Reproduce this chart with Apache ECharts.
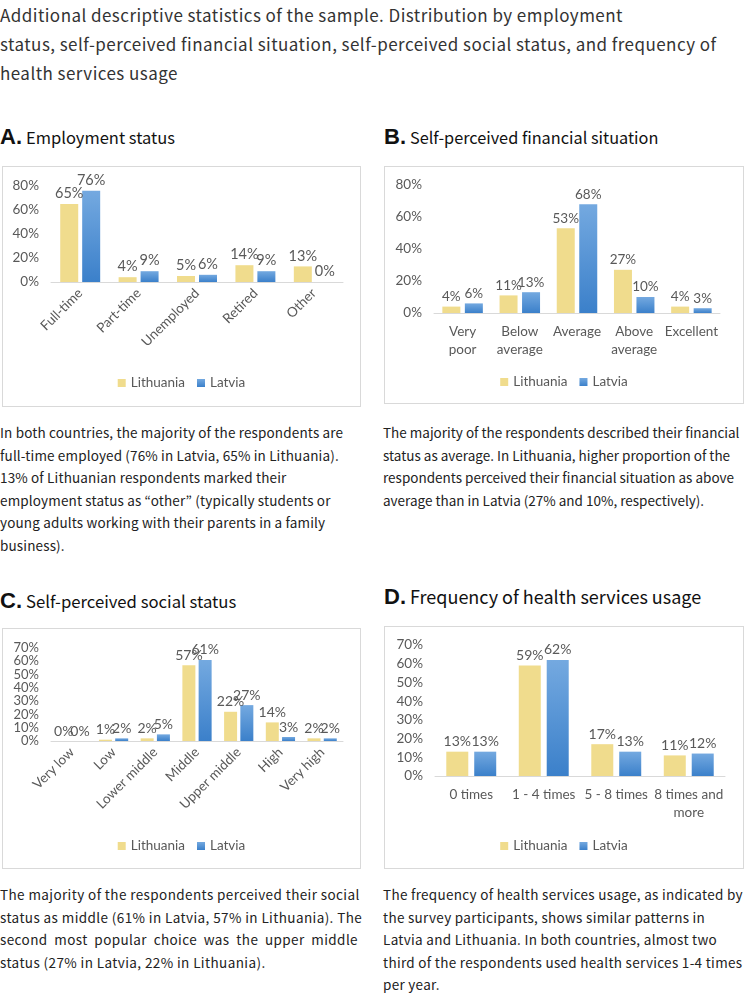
<!DOCTYPE html>
<html>
<head>
<meta charset="utf-8">
<script src="https://cdn.jsdelivr.net/npm/echarts@6/dist/echarts.min.js"></script>
<style>
  html, body { margin: 0; padding: 0; background: #fff; }
  body { width: 745px; height: 993px; position: relative; overflow: hidden; color: #222; }
  .abs { position: absolute; }
  .title { left: 0; top: 0; font-family: "Noto Sans CJK JP", "Noto Sans", sans-serif; font-size: 17px; letter-spacing: 0.45px; line-height: 29px; color: #333; white-space: nowrap; }
  .head { font-family: "Noto Sans CJK JP", "Noto Sans", sans-serif; color: #111; white-space: nowrap; }
  .head b { font-family: "Liberation Sans", Arial, sans-serif; font-size: 22px; font-weight: bold; margin-right: 4px; }
  .para { font-family: "Noto Sans CJK JP", "Noto Sans", sans-serif; font-size: 13.5px; line-height: 22.5px; color: #222; white-space: nowrap; }
  .para .j { text-align: justify; text-align-last: justify; }
  .box { position: absolute; border: 1px solid #d9d9d9; box-sizing: border-box; }
  .box > div { position: absolute; left: 0; top: 0; width: 100%; height: 100%; }
</style>
</head>
<body>
<div class="abs title" id="title">Additional descriptive statistics of the sample. Distribution by employment<br>status, self-perceived financial situation, self-perceived social status, and frequency of<br>health services usage</div>

<div class="abs head" style="left:0;top:124px;font-size:16.5px;"><b>A.</b>Employment status</div>
<div class="abs head" style="left:384px;top:124px;font-size:16.3px;"><b>B.</b>Self-perceived financial situation</div>
<div class="abs head" style="left:0;top:588px;font-size:16.7px;"><b>C.</b>Self-perceived social status</div>
<div class="abs head" style="left:384px;top:583px;font-size:18px;"><b>D.</b>Frequency of health services usage</div>

<div class="box" style="left:2px;top:166px;width:359px;height:241px;"><div id="chartA"></div></div>
<div class="box" style="left:384px;top:166px;width:360px;height:238px;"><div id="chartB"></div></div>
<div class="box" style="left:2px;top:628px;width:359px;height:241px;"><div id="chartC"></div></div>
<div class="box" style="left:384px;top:626px;width:360px;height:243px;"><div id="chartD"></div></div>

<div class="abs para" style="left:0;top:421px;letter-spacing:0.15px;">In both countries, the majority of the respondents are<br>full-time employed (76% in Latvia, 65% in Lithuania).<br>13% of Lithuanian respondents marked their<br>employment status as “other” (typically students or<br>young adults working with their parents in a family<br>business).</div>
<div class="abs para" style="left:383px;top:421px;">The majority of the respondents described their financial<br>status as average. In Lithuania, higher proportion of the<br>respondents perceived their financial situation as above<br>average than in Latvia (27% and 10%, respectively).</div>
<div class="abs para" style="left:0;top:883px;width:358px;letter-spacing:0.4px;">
  <div class="j">The majority of the respondents perceived their social</div>
  <div class="j">status as middle (61% in Latvia, 57% in Lithuania). The</div>
  <div class="j">second most popular choice was the upper middle</div>
  <div>status (27% in Latvia, 22% in Lithuania).</div>
</div>
<div class="abs para" style="left:383px;top:883px;letter-spacing:0.3px;">The frequency of health services usage, as indicated by<br>the survey participants, shows similar patterns in<br>Latvia and Lithuania. In both countries, almost two<br>third of the respondents used health services 1-4 times<br>per year.</div>

<script>
// ---- Data ----
const seriesNames = ['Lithuania', 'Latvia'];

const employmentCategories = ['Full-time', 'Part-time', 'Unemployed', 'Retired', 'Other'];
const employmentLithuania = [65, 4, 5, 14, 13];
const employmentLatvia = [76, 9, 6, 9, 0];

const financialCategories = ['Very\npoor', 'Below\naverage', 'Average', 'Above\naverage', 'Excellent'];
const financialLithuania = [4, 11, 53, 27, 4];
const financialLatvia = [6, 13, 68, 10, 3];

const socialCategories = ['Very low', 'Low', 'Lower middle', 'Middle', 'Upper middle', 'High', 'Very high'];
const socialLithuania = [0, 1, 2, 57, 22, 14, 2];
const socialLatvia = [0, 2, 5, 61, 27, 3, 2];

const healthCategories = ['0 times', '1 - 4 times', '5 - 8 times', '8 times and\nmore'];
const healthLithuania = [13, 59, 17, 11];
const healthLatvia = [13, 62, 13, 12];

// ---- Styles ----
const FONT = 'Lato, "Noto Sans", sans-serif';
const TXT = '#595959';
const YELLOW = '#F0DC8D';
const BLUE = {
  type: 'linear', x: 0, y: 0, x2: 0, y2: 1,
  colorStops: [{ offset: 0, color: '#74A9E0' }, { offset: 1, color: '#3B80CA' }]
};

function makeOption(cfg) {
  const label = {
    show: true, position: 'top', distance: 3, color: TXT,
    fontFamily: FONT, fontSize: cfg.labelSize,
    formatter: p => p.value + '%'
  };
  return {
    animation: false,
    textStyle: { fontFamily: FONT },
    legend: {
      data: seriesNames, bottom: cfg.legendBottom, left: 'center',
      itemWidth: 8, itemHeight: 8, itemGap: 12, icon: 'rect',
      textStyle: { color: TXT, fontSize: 13.5, fontFamily: FONT }
    },
    grid: { left: cfg.left, right: cfg.right, top: cfg.top, bottom: cfg.bottom, containLabel: false },
    xAxis: {
      type: 'category', data: cfg.categories,
      axisLine: { lineStyle: { color: '#d9d9d9' } },
      axisTick: { show: false },
      axisLabel: {
        color: TXT, fontSize: 13.5, fontFamily: FONT, interval: 0,
        rotate: cfg.rotate || 0, margin: cfg.labelMargin || 10, lineHeight: 18
      }
    },
    yAxis: {
      type: 'value', min: 0, max: cfg.max, interval: cfg.interval,
      axisLine: { show: false }, axisTick: { show: false },
      splitLine: { show: false },
      axisLabel: {
        color: TXT, fontSize: cfg.tickSize || 13.5, fontFamily: FONT, margin: 12,
        lineHeight: cfg.tickLineHeight || 16,
        showMinLabel: true, showMaxLabel: true, hideOverlap: false,
        textMargin: 0,
        formatter: v => v + '%'
      }
    },
    series: [
      { name: seriesNames[0], type: 'bar', data: cfg.a, barWidth: cfg.barWidth, barGap: cfg.barGap,
        itemStyle: { color: YELLOW }, label: label },
      { name: seriesNames[1], type: 'bar', data: cfg.b, barWidth: cfg.barWidth, barGap: cfg.barGap,
        itemStyle: { color: BLUE }, label: label }
    ]
  };
}

const charts = [
  ['chartA', { categories: employmentCategories, a: employmentLithuania, b: employmentLatvia,
    max: 80, interval: 20, left: 48, right: 17, top: 19, bottom: 124, rotate: 45, labelMargin: 9,
    barWidth: 18, barGap: '22%', legendBottom: 11, labelSize: 14.5 }],
  ['chartB', { categories: financialCategories, a: financialLithuania, b: financialLatvia,
    max: 80, interval: 20, left: 49, right: 23, top: 18, bottom: 90,
    barWidth: 18, barGap: '25%', legendBottom: 9, labelSize: 13.5 }],
  ['chartC', { categories: socialCategories, a: socialLithuania, b: socialLatvia,
    max: 70, interval: 10, left: 48, right: 17, top: 19, bottom: 127, rotate: 45, labelMargin: 9,
    barWidth: 13, barGap: '25%', legendBottom: 10, labelSize: 14, tickSize: 13, tickLineHeight: 12 }],
  ['chartD', { categories: healthCategories, a: healthLithuania, b: healthLatvia,
    max: 70, interval: 10, left: 50, right: 18, top: 18, bottom: 92,
    barWidth: 22, barGap: '27%', legendBottom: 10, labelSize: 14 }]
];

charts.forEach(([id, cfg]) => {
  const c = echarts.init(document.getElementById(id), null, { renderer: 'canvas' });
  c.setOption(makeOption(cfg));
});
</script>
</body>
</html>
